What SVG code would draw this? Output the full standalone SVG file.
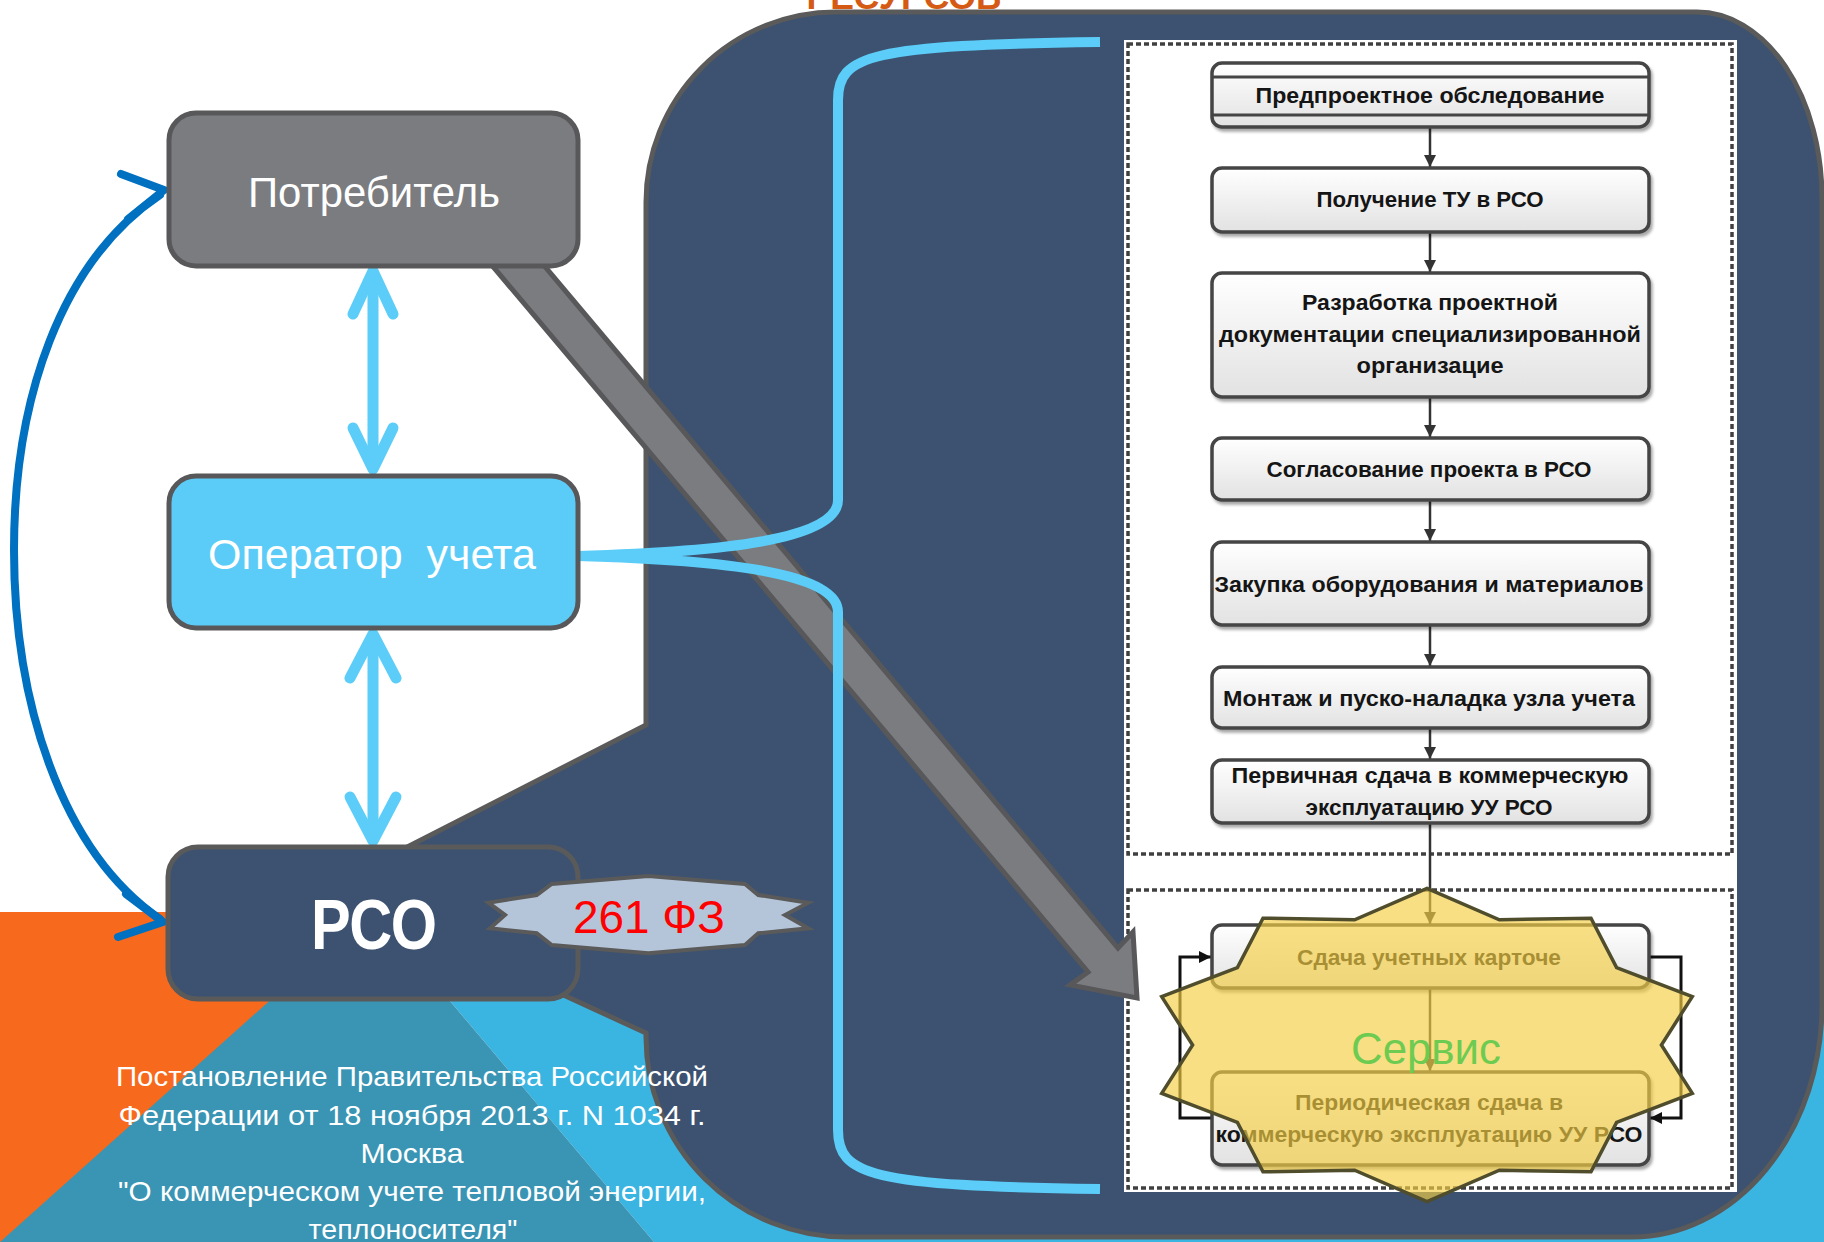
<svg xmlns="http://www.w3.org/2000/svg" width="1824" height="1242" viewBox="0 0 1824 1242">
<defs>
<style>
.sans{font-family:"Liberation Sans",Arial,sans-serif}
.fbox{fill:url(#boxg);stroke:#444444;stroke-width:3.5;filter:url(#sh)}
.ft{font-family:"Liberation Sans",Arial,sans-serif;font-weight:bold;font-size:22px;fill:#151515;text-anchor:middle}
.flow{stroke:#333;stroke-width:2.5;fill:none;marker-end:url(#ah)}
.loop{stroke:#111;stroke-width:3;fill:none;marker-end:url(#ahk)}
.lb{stroke:#5BCDF8;stroke-width:11;fill:none;stroke-linecap:round;stroke-linejoin:round}
.brace{stroke:#5BCDF8;stroke-width:10;fill:none}
.db{stroke:#0070C0;stroke-width:8;fill:none;stroke-linecap:round;stroke-linejoin:round}
.dash{fill:none;stroke:#404040;stroke-width:3.5;stroke-dasharray:5 3}
.wt{fill:#ffffff;text-anchor:middle}
</style>
<linearGradient id="boxg" x1="0" y1="0" x2="0" y2="1">
<stop offset="0" stop-color="#ffffff"/>
<stop offset="1" stop-color="#e2e2e2"/>
</linearGradient>
<filter id="sh" x="-5%" y="-15%" width="112%" height="140%">
<feDropShadow dx="2" dy="3" stdDeviation="1.5" flood-color="#000" flood-opacity="0.35"/>
</filter>
<marker id="ah" viewBox="0 0 10 10" refX="10" refY="5" markerWidth="12" markerHeight="12" markerUnits="userSpaceOnUse" orient="auto">
<path d="M0,0 L10,5 L0,10 z" fill="#333"/>
</marker>
<marker id="ahk" viewBox="0 0 10 10" refX="10" refY="5" markerWidth="12" markerHeight="12" markerUnits="userSpaceOnUse" orient="auto">
<path d="M0,0 L10,5 L0,10 z" fill="#111"/>
</marker>
</defs>

<rect x="0" y="0" width="1824" height="1242" fill="#ffffff"/>

<g id="background">
<polygon points="372,909 1824,909 1824,1242 654,1242" fill="#3AB4E1"/>
<polygon points="0,912 376,912 0,1243" fill="#F76A1D"/>
<polygon points="372,909 654,1242 0,1242" fill="#3A94B3"/>
<text x="904" y="9" class="sans" font-size="35" font-weight="bold" fill="#D55A14" text-anchor="middle" textLength="195" lengthAdjust="spacingAndGlyphs">РЕСУРСОВ</text>
<path d="M836,12 H1697 A125,186 0 0 1 1822,198 V1005 A190,232 0 0 1 1632,1237 H846 A200,200 0 0 1 646,1037 V1033 L329,887 L646,725 V202 A190,190 0 0 1 836,12 Z" fill="#3C5270" stroke="#5A5A5A" stroke-width="5" stroke-linejoin="miter"/>
</g>

<g id="flowchart-panel">
<rect x="1124" y="40" width="613" height="1152" fill="#ffffff"/>
<rect class="dash" x="1128" y="44" width="604" height="810"/>
<rect class="dash" x="1128" y="890" width="604" height="298"/>
</g>

<g id="connectors">
<line class="flow" x1="1430" y1="127" x2="1430" y2="167"/>
<line class="flow" x1="1430" y1="232" x2="1430" y2="272"/>
<line class="flow" x1="1430" y1="397" x2="1430" y2="437"/>
<line class="flow" x1="1430" y1="500" x2="1430" y2="541"/>
<line class="flow" x1="1430" y1="625" x2="1430" y2="666"/>
<line class="flow" x1="1430" y1="728" x2="1430" y2="759"/>
<line class="flow" x1="1430" y1="823" x2="1430" y2="924"/>
<line class="flow" x1="1430" y1="988" x2="1430" y2="1071"/>
<polyline class="loop" points="1212,1118 1180,1118 1180,957 1211,957"/>
<polyline class="loop" points="1648,957 1681,957 1681,1118 1650,1118"/>
<polygon id="gray-arrow" points="479,250 531,250 1118,948 1133,932 1137,998 1070,985 1088,972" fill="#7B7C80" stroke="#58585A" stroke-width="5" stroke-linejoin="miter"/>
<path class="brace" d="M1100,42 C870,45 838,55 838,100 V500 C838,540 720,552 578,556"/>
<path class="brace" d="M578,556 C720,560 838,572 838,612 V1130 C838,1175 870,1186 1100,1189"/>
<line class="lb" x1="373" y1="274" x2="373" y2="466"/>
<polyline class="lb" points="353,314 373,271 393,314"/>
<polyline class="lb" points="353,428 373,469 393,428"/>
<line class="lb" x1="373" y1="637" x2="373" y2="838"/>
<polyline class="lb" points="350,678 373,634 396,678"/>
<polyline class="lb" points="350,797 373,841 396,797"/>
<path class="db" d="M160,919 C60,850 14,700 14,550 C14,400 60,262 160,195"/>
<polyline class="db" points="121,174 164,190 128,219"/>
<polyline class="db" points="126,894 163,922 118,937"/>
</g>

<g id="step1">
<rect class="fbox" x="1212" y="63" width="437" height="64" rx="10"/>
<line x1="1212" y1="77" x2="1649" y2="77" stroke="#444444" stroke-width="3"/>
<line x1="1212" y1="115" x2="1649" y2="115" stroke="#444444" stroke-width="3"/>
<text class="ft" x="1430" y="103" textLength="349" lengthAdjust="spacingAndGlyphs">Предпроектное обследование</text>
</g>
<g id="step2">
<rect class="fbox" x="1212" y="168" width="437" height="64" rx="10"/>
<text class="ft" x="1430" y="207" textLength="227" lengthAdjust="spacingAndGlyphs">Получение ТУ в РСО</text>
</g>
<g id="step3">
<rect class="fbox" x="1212" y="273" width="437" height="124" rx="10"/>
<text class="ft" x="1430" y="310" textLength="256" lengthAdjust="spacingAndGlyphs">Разработка проектной</text>
<text class="ft" x="1430" y="342" textLength="422" lengthAdjust="spacingAndGlyphs">документации специализированной</text>
<text class="ft" x="1430" y="373" textLength="147" lengthAdjust="spacingAndGlyphs">организацие</text>
</g>
<g id="step4">
<rect class="fbox" x="1212" y="438" width="437" height="62" rx="10"/>
<text class="ft" x="1429" y="477" textLength="325" lengthAdjust="spacingAndGlyphs">Согласование проекта в РСО</text>
</g>
<g id="step5">
<rect class="fbox" x="1212" y="542" width="437" height="83" rx="10"/>
<text class="ft" x="1429" y="592" textLength="429" lengthAdjust="spacingAndGlyphs">Закупка оборудования и материалов</text>
</g>
<g id="step6">
<rect class="fbox" x="1212" y="667" width="437" height="61" rx="10"/>
<text class="ft" x="1429" y="706" textLength="412" lengthAdjust="spacingAndGlyphs">Монтаж и пуско-наладка узла учета</text>
</g>
<g id="step7">
<rect class="fbox" x="1212" y="760" width="437" height="63" rx="10"/>
<text class="ft" x="1430" y="783" textLength="397" lengthAdjust="spacingAndGlyphs">Первичная сдача в коммерческую</text>
<text class="ft" x="1429" y="815" textLength="247" lengthAdjust="spacingAndGlyphs">эксплуатацию УУ РСО</text>
</g>
<g id="step8">
<rect class="fbox" x="1212" y="925" width="437" height="63" rx="10"/>
<text class="ft" x="1429" y="965" textLength="264" lengthAdjust="spacingAndGlyphs">Сдача учетных карточе</text>
</g>
<g id="step9">
<rect class="fbox" x="1212" y="1072" width="437" height="93" rx="10"/>
<text class="ft" x="1429" y="1110" textLength="268" lengthAdjust="spacingAndGlyphs">Периодическая сдача в</text>
<text class="ft" x="1429" y="1142" textLength="427" lengthAdjust="spacingAndGlyphs">коммерческую эксплуатацию УУ РСО</text>
</g>

<g id="service-star">
<path d="M1427,888.3 L1499.4,919.8 L1591,918.2 L1616.6,967.6 L1692.3,996.6 L1661.4,1045 L1692.3,1093.4 L1616.6,1122.4 L1591,1171.8 L1499.4,1170.2 L1427,1201.7 L1354.6,1170.2 L1263,1171.8 L1237.4,1122.4 L1161.7,1093.4 L1192.6,1045 L1161.7,996.6 L1237.4,967.6 L1263,918.2 L1354.6,919.8 Z" fill="#F4CF45" fill-opacity="0.66" stroke="#4F4D2C" stroke-width="3.5" stroke-linejoin="miter"/>
<text class="sans" x="1426" y="1064" font-size="45" fill="#6CCB50" text-anchor="middle" textLength="150" lengthAdjust="spacingAndGlyphs">Сервис</text>
</g>

<g id="consumer">
<rect x="169" y="113" width="409" height="153" rx="27" fill="#7B7C80" stroke="#58585A" stroke-width="5"/>
<text class="sans wt" x="374" y="207" font-size="43" textLength="252" lengthAdjust="spacingAndGlyphs">Потребитель</text>
</g>
<g id="operator">
<rect x="169" y="476" width="409" height="152" rx="27" fill="#5BCCF8" stroke="#58585A" stroke-width="5"/>
<text class="sans wt" x="372" y="569" font-size="42" textLength="328" lengthAdjust="spacingAndGlyphs" xml:space="preserve">Оператор  учета</text>
</g>
<g id="rso">
<rect x="168" y="847" width="410" height="152" rx="30" fill="#3C5270" stroke="#5A5A5A" stroke-width="5"/>
<text class="sans wt" x="374" y="949" font-size="70" font-weight="bold" textLength="126" lengthAdjust="spacingAndGlyphs">РСО</text>
</g>
<g id="law-261">
<polygon points="488.3,902.7 536.7,895 551.7,884 648.3,876 745,884 758.3,895 808.3,902.7 785,915 808.3,928.3 758.3,933.3 745,945 648.3,953.3 551.7,945 536.7,933.3 490,928.3 505,915" fill="#B5C5D9" stroke="#5A5A5A" stroke-width="4" stroke-linejoin="miter"/>
<text class="sans" x="649" y="933" font-size="46" fill="#FF0000" text-anchor="middle" textLength="152" lengthAdjust="spacingAndGlyphs">261 ФЗ</text>
</g>

<g id="decree-text" class="sans" font-size="28" fill="#ffffff" text-anchor="middle">
<text x="412" y="1086" textLength="592" lengthAdjust="spacingAndGlyphs">Постановление Правительства Российской</text>
<text x="412" y="1125" textLength="587" lengthAdjust="spacingAndGlyphs">Федерации от 18 ноября 2013 г. N 1034 г.</text>
<text x="412" y="1163" textLength="103" lengthAdjust="spacingAndGlyphs">Москва</text>
<text x="412" y="1201" textLength="588" lengthAdjust="spacingAndGlyphs">"О коммерческом учете тепловой энергии,</text>
<text x="413" y="1239" textLength="209" lengthAdjust="spacingAndGlyphs">теплоносителя"</text>
</g>
</svg>
